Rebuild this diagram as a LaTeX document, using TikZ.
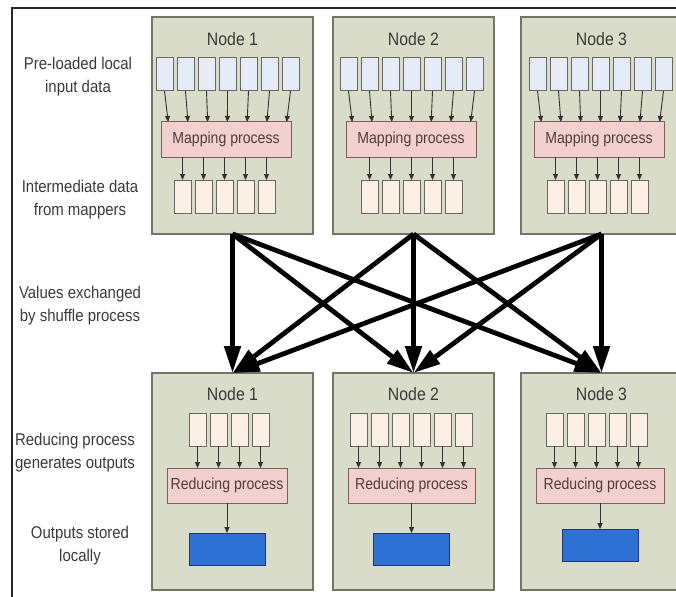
\documentclass[tikz,border=0pt]{standalone}
\usepackage{fontspec}
\setmainfont{Liberation Sans}
\newfontfamily\narrowsans[FakeStretch=0.88]{Liberation Sans}
\usetikzlibrary{arrows.meta,calc}

\definecolor{nodegreen}{RGB}{216,220,200}
\definecolor{nodeline}{RGB}{115,117,105}
\definecolor{inblue}{RGB}{229,236,247}
\definecolor{midpeach}{RGB}{252,239,229}
\definecolor{boxline}{RGB}{105,103,95}
\definecolor{procpink}{RGB}{241,208,207}
\definecolor{procline}{RGB}{128,92,90}
\definecolor{outblue}{RGB}{47,112,212}
\definecolor{outline}{RGB}{30,55,120}
\definecolor{textgrey}{RGB}{58,58,58}
\definecolor{proctext}{RGB}{85,60,60}

\tikzset{
  machine/.style={draw=nodeline, fill=nodegreen, line width=1.2pt, anchor=north west,
    minimum width=161pt, minimum height=217pt, inner sep=0pt, outer sep=0pt},
  title/.style={text=textgrey, font=\narrowsans\fontsize{18}{20}\selectfont, inner sep=0pt},
  datain/.style={draw=boxline, fill=inblue, line width=1pt, anchor=north west,
    minimum width=17pt, minimum height=33pt, inner sep=0pt, outer sep=0pt},
  datamid/.style={datain, fill=midpeach},
  procbox/.style={draw=procline, fill=procpink, line width=1pt, anchor=north west,
    minimum height=35pt, inner sep=0pt, outer sep=0pt, text=proctext,
    font=\narrowsans\fontsize{16}{18}\selectfont},
  outbox/.style={draw=outline, fill=outblue, line width=1pt, anchor=north west,
    minimum width=76pt, minimum height=32pt, inner sep=0pt, outer sep=0pt},
  smallarrow/.style={draw=black!80, line width=0.9pt, -{Triangle[length=6pt,width=5pt]}},
  bigarrow/.style={line width=4.8pt, -{Triangle[length=27pt,width=16pt]}},
  sidelabel/.style={text=textgrey, align=center, font=\narrowsans\fontsize{17}{23}\selectfont},
  frame/.style={line width=1.8pt, draw=black!85}
}

\begin{document}
\begin{tikzpicture}[x=1pt, y=-1pt]
  \path[use as bounding box] (0,0) rectangle (676,596);
  \clip (0,0) rectangle (676,596);

  % outer frame
  \draw[frame] (12,597) -- (12,8) -- (677,8);

  % row labels
  \node[sidelabel] (lblin) at (78,77) {Pre-loaded local\\input data};
  \node[sidelabel] (lblmid) at (80,200) {Intermediate data\\from mappers};
  \node[sidelabel] (lblshuffle) at (80,306) {Values exchanged\\by shuffle process};
  \node[sidelabel] (lblreduce) at (75,453) {Reducing process\\generates outputs};
  \node[sidelabel] (lblout) at (80,546) {Outputs stored\\locally};

  % map side
  \foreach \k/\bx/\ix/\mx/\dx in {1/152/156/161/174, 2/333/340/346/361, 3/521/529/534/547} {
    \node[machine] (top\k) at (\bx,17) {};
    \node[title] (toptitle\k) at ({\bx+80.5},39) {Node \k};
    \foreach \j in {1,...,7}
      \node[datain] (in\k\j) at ({\ix+21*(\j-1)},58) {};
    \node[procbox, minimum width=130pt] (map\k) at (\mx,122) {Mapping process};
    \foreach \j in {1,...,5}
      \node[datamid] (mid\k\j) at ({\dx+21*(\j-1)},180) {};
    \foreach \j in {1,...,7}
      \draw[smallarrow] (in\k\j.south) -- ($(in\k\j.south |- map\k.north)!0.06!(map\k.north)$);
    \foreach \j in {1,...,5}
      \draw[smallarrow] (mid\k\j.north |- map\k.south) -- (mid\k\j.north);
  }

  % reduce side
  \foreach \k/\bx/\n/\rx/\px/\pw/\oy in {1/152/4/189/167/120/533, 2/333/6/350/348/127/533, 3/521/5/546/536/128/529} {
    \node[machine] (bot\k) at (\bx,373) {};
    \node[title] (bottitle\k) at ({\bx+80.5},394) {Node \k};
    \node[procbox, minimum width=\pw pt] (red\k) at (\px,468) {Reducing process};
    \foreach \j in {1,...,\n} {
      \node[datamid] (part\k\j) at ({\rx+21*(\j-1)},413) {};
      \draw[smallarrow] (part\k\j.south) -- (part\k\j.south |- red\k.north);
    }
    \node[outbox] (out\k) at ({\px+\pw/2-38},\oy) {};
    \draw[smallarrow] (red\k.south) -- (out\k.north);
  }

  % shuffle
  \foreach \s in {1,2,3}
    \foreach \t in {1,2,3}
      \draw[bigarrow] (top\s.south) -- (bot\t.north);
\end{tikzpicture}
\end{document}
